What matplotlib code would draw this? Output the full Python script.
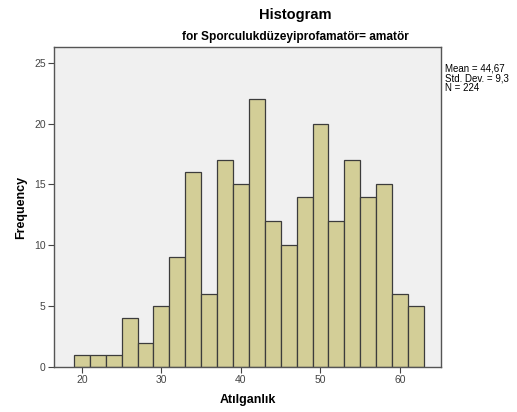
import numpy as np
import matplotlib
matplotlib.use("Agg")
import matplotlib.pyplot as plt

plt.rcParams['font.family'] = ['Liberation Sans', 'DejaVu Sans']

# bin edges (width 2) and counts
bin_start = 19
bin_width = 2
counts = [1, 1, 1, 4, 2, 5, 9, 16, 6, 17, 15, 22, 12, 10, 14, 20, 12, 17, 14, 15, 6, 5]
x_ticks = [20, 30, 40, 50, 60]
y_ticks = [0, 5, 10, 15, 20, 25]
stats_text = "Mean = 44,67\nStd. Dev. = 9,3\nN = 224"

edges = bin_start + bin_width * np.arange(len(counts))

fig = plt.figure(figsize=(5.17, 4.12), dpi=100)
ax = fig.add_axes([0.1044, 0.1092, 0.7486, 0.7768])
ax.set_facecolor('#F0F0F0')

ax.bar(edges, counts, width=bin_width, align='edge', color='#D3CE97',
       edgecolor='#3C3C3C', linewidth=0.9)

ax.set_xlim(16.5, 65.15)
ax.set_ylim(0, 26.3)
ax.set_xticks(x_ticks)
ax.set_yticks(y_ticks)
ax.tick_params(direction='out', length=4, width=0.8, labelsize=7.5,
               colors='#444444', pad=2)
for s in ax.spines.values():
    s.set_color('#555555')
    s.set_linewidth(1.0)

ax.set_xlabel('Atılganlık', fontsize=9, fontweight='bold', labelpad=6)
ax.set_ylabel('Frequency', fontsize=9, fontweight='bold', labelpad=5)

fig.text(0.5706, 0.964, 'Histogram', ha='center', va='center',
         fontsize=10.5, fontweight='bold')
fig.text(0.571, 0.910, 'for Sporculukdüzeyiprofamatör= amatör', ha='center',
         va='center', fontsize=8.6, fontweight='bold')
fig.text(0.861, 0.845, stats_text, ha='left', va='top', fontsize=7,
         linespacing=0.92)

fig.savefig('out.png', dpi=100)
